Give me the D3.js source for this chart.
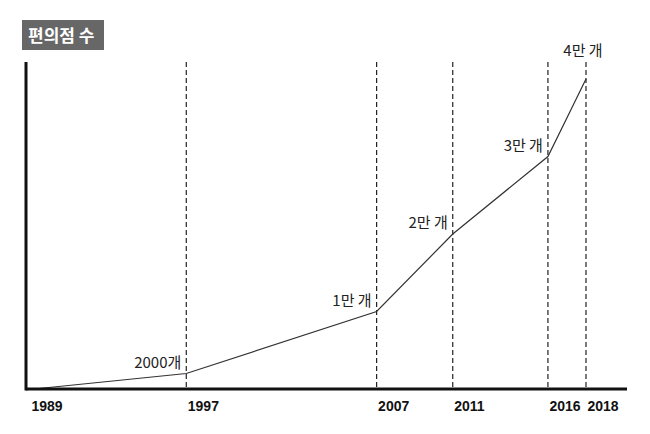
<!DOCTYPE html>
<html>
<head>
<meta charset="utf-8">
<script src="https://cdn.jsdelivr.net/npm/d3@7"></script>
<style>
  body { margin: 0; background: #fff; }
  .tick text { font-family: "Liberation Sans Narrow", "Arial Narrow", sans-serif; font-weight: bold; font-size: 14px; fill: #111; }
  .note { font-family: "Noto Sans CJK KR", sans-serif; font-size: 15px; fill: #222; }
</style>
</head>
<body>
<div class="container"></div>
<script>
// values
let years = [1989, 1997, 2007, 2011, 2016, 2018];
let stores = [0, 2000, 10000, 20000, 30000, 40000];
let notes = ["", "2000개", "1만 개", "2만 개", "3만 개", "4만 개"];
let guideYears = [1997, 2007, 2011, 2016, 2018];
let title = "편의점 수";

let width = 650, height = 434;

let svg = d3.select(".container").append("svg")
    .attr("width", width)
    .attr("height", height);

let x = d3.scaleLinear().domain([1989, 2018]).range([34, 586]);
let y = d3.scaleLinear().domain([0, 40000]).range([389, 79]);

let axisLeft = 26, axisRight = 627, axisTop = 62;

// title badge
svg.append("rect")
    .attr("x", 22).attr("y", 20)
    .attr("width", 82).attr("height", 30)
    .style("fill", "#676767");
svg.append("text")
    .text(title)
    .attr("x", 28).attr("y", 42)
    .style("font-family", "'Noto Sans CJK KR', sans-serif")
    .style("font-weight", "bold")
    .style("font-size", "17px")
    .style("fill", "#fff");

// dashed guides
svg.append("g")
  .selectAll("line")
  .data(guideYears)
  .enter().append("line")
    .attr("x1", d => x(d)).attr("x2", d => x(d))
    .attr("y1", axisTop).attr("y2", y(0))
    .style("stroke", "#222")
    .style("stroke-width", 1.2)
    .style("stroke-dasharray", "5,3");

// the series
let line = d3.line()
    .x((d, i) => x(years[i]))
    .y(d => y(d));

svg.append("path")
    .datum(stores)
    .attr("d", line)
    .style("fill", "none")
    .style("stroke", "#333")
    .style("stroke-width", 1.2);

// x axis, labels only
let xAxis = svg.append("g")
    .attr("transform", "translate(0," + y(0) + ")")
    .call(d3.axisBottom(x).tickValues(years).tickSize(0).tickFormat(d3.format("d")));
xAxis.select(".domain").remove();
xAxis.selectAll("text")
    .attr("text-anchor", "start")
    .attr("dx", (d, i) => i == 0 ? -3 : 1)
    .attr("y", 12);

// thick axis lines
svg.append("line")
    .attr("x1", axisLeft).attr("x2", axisRight)
    .attr("y1", y(0)).attr("y2", y(0))
    .style("stroke", "#111").style("stroke-width", 3);
svg.append("line")
    .attr("x1", axisLeft).attr("x2", axisLeft)
    .attr("y1", axisTop).attr("y2", y(0) + 1.5)
    .style("stroke", "#111").style("stroke-width", 3);

// point notes
svg.append("g")
  .selectAll("text")
  .data(stores)
  .enter().append("text")
    .attr("class", "note")
    .text((d, i) => notes[i])
    .attr("text-anchor", (d, i) => i == stores.length - 1 ? "middle" : "end")
    .attr("x", (d, i) => i == stores.length - 1 ? x(years[i]) - 3 : x(years[i]) - 5)
    .attr("y", (d, i) => i == stores.length - 1 ? axisTop - 6 : y(d) - 6);
</script>
</body>
</html>
